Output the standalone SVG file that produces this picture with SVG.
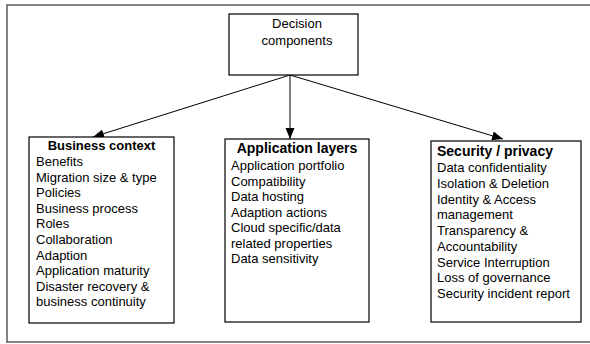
<svg xmlns="http://www.w3.org/2000/svg" width="590" height="344" viewBox="0 0 590 344">
  <style>
    .frame { fill: none; stroke: #5a5a5a; stroke-width: 1.5; }
    .box { fill: #ffffff; stroke: #000000; stroke-width: 1.2; }
    .edge { fill: none; stroke: #000000; stroke-width: 1; }
    text { font-family: "Liberation Sans", Arial, sans-serif; font-size: 13px; fill: #000000; }
    .head { font-weight: bold; }
    .head14 { font-weight: bold; font-size: 14px; }
  </style>
  <defs>
    <marker id="arrow" markerUnits="userSpaceOnUse" markerWidth="12" markerHeight="10" refX="11" refY="5" orient="auto">
      <path d="M0,0.5 L11,5 L0,9.5 Z" fill="#000000"/>
    </marker>
  </defs>

  <rect class="frame" x="7" y="5" width="600" height="337"/>

  <g id="connectors">
    <line class="edge" x1="290" y1="75" x2="93" y2="137" marker-end="url(#arrow)"/>
    <line class="edge" x1="290" y1="75" x2="290" y2="139" marker-end="url(#arrow)"/>
    <line class="edge" x1="290" y1="75" x2="503" y2="139" marker-end="url(#arrow)"/>
  </g>

  <g id="decision-components">
    <rect class="box" x="229" y="14" width="129" height="61"/>
    <text x="297" y="28" text-anchor="middle">Decision</text>
    <text x="297" y="45" text-anchor="middle">components</text>
  </g>

  <g id="business-context">
    <rect class="box" x="29" y="137" width="145" height="186"/>
    <text class="head" x="101.5" y="150" text-anchor="middle">Business context</text>
    <text x="36" y="166">Benefits</text>
    <text x="36" y="181.6">Migration size &amp; type</text>
    <text x="36" y="197.2">Policies</text>
    <text x="36" y="212.8">Business process</text>
    <text x="36" y="228.4">Roles</text>
    <text x="36" y="244">Collaboration</text>
    <text x="36" y="259.6">Adaption</text>
    <text x="36" y="275.2">Application maturity</text>
    <text x="36" y="290.8">Disaster recovery &amp;</text>
    <text x="36" y="306.4">business continuity</text>
  </g>

  <g id="application-layers">
    <rect class="box" x="225" y="139" width="144" height="183"/>
    <text class="head14" x="297" y="153" text-anchor="middle">Application layers</text>
    <text x="231" y="170">Application portfolio</text>
    <text x="231" y="185.5">Compatibility</text>
    <text x="231" y="201">Data hosting</text>
    <text x="231" y="216.5">Adaption actions</text>
    <text x="231" y="232">Cloud specific/data</text>
    <text x="231" y="247.5">related properties</text>
    <text x="231" y="263">Data sensitivity</text>
  </g>

  <g id="security-privacy">
    <rect class="box" x="431" y="141" width="150" height="181"/>
    <text class="head14" x="437" y="156">Security / privacy</text>
    <text x="437" y="172">Data confidentiality</text>
    <text x="437" y="187.75">Isolation &amp; Deletion</text>
    <text x="437" y="203.5">Identity &amp; Access</text>
    <text x="437" y="219.25">management</text>
    <text x="437" y="235">Transparency &amp;</text>
    <text x="437" y="250.75">Accountability</text>
    <text x="437" y="266.5">Service Interruption</text>
    <text x="437" y="282.25">Loss of governance</text>
    <text x="437" y="298">Security incident report</text>
  </g>
</svg>
